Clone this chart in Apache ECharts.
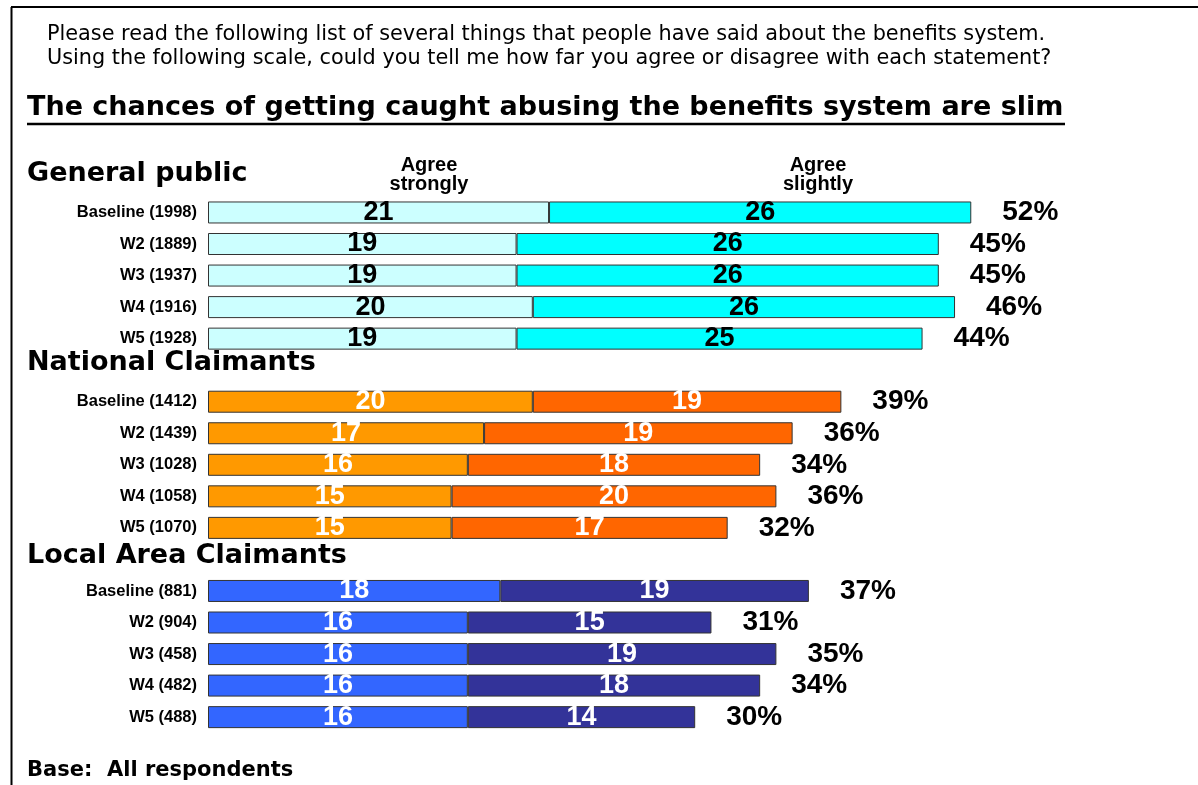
<!DOCTYPE html>
<html>
<head>
<meta charset="utf-8">
<script src="https://cdn.jsdelivr.net/npm/echarts@6/dist/echarts.min.js"></script>
<style>
  html, body { margin: 0; padding: 0; background: #fff; }
  #chart { width: 1198px; height: 785px; }
</style>
</head>
<body>
<div id="chart"></div>
<script>
// Survey groups and their waves (sample size in brackets)
const groupNames = ['General public', 'National Claimants', 'Local Area Claimants'];

const gpWaves = ['Baseline (1998)', 'W2 (1889)', 'W3 (1937)', 'W4 (1916)', 'W5 (1928)'];
const gpStrongly = [21, 19, 19, 20, 19];
const gpSlightly = [26, 26, 26, 26, 25];
const gpTotal = [52, 45, 45, 46, 44];

const ncWaves = ['Baseline (1412)', 'W2 (1439)', 'W3 (1028)', 'W4 (1058)', 'W5 (1070)'];
const ncStrongly = [20, 17, 16, 15, 15];
const ncSlightly = [19, 19, 18, 20, 17];
const ncTotal = [39, 36, 34, 36, 32];

const laWaves = ['Baseline (881)', 'W2 (904)', 'W3 (458)', 'W4 (482)', 'W5 (488)'];
const laStrongly = [18, 16, 16, 16, 16];
const laSlightly = [19, 15, 19, 18, 14];
const laTotal = [37, 31, 35, 34, 30];

const seriesNames = ['Agree strongly', 'Agree slightly'];

// Palette per group: [agree strongly, agree slightly, value label colour]
const palette = [
  ['#CCFFFF', '#00FFFF', '#000000'],
  ['#FF9900', '#FF6600', '#FFFFFF'],
  ['#3366FF', '#333399', '#FFFFFF']
];

const groups = [
  { waves: gpWaves, strongly: gpStrongly, slightly: gpSlightly, total: gpTotal },
  { waves: ncWaves, strongly: ncStrongly, slightly: ncSlightly, total: ncTotal },
  { waves: laWaves, strongly: laStrongly, slightly: laSlightly, total: laTotal }
];

// One category row per wave, with a spacer row between groups for the group heading
const categories = [];
const stronglyData = [];
const slightlyData = [];
const totalData = [];
groups.forEach((g, gi) => {
  if (gi > 0) {
    categories.push(' '.repeat(gi));
    stronglyData.push('-');
    slightlyData.push('-');
    totalData.push('-');
  }
  const [c1, c2, lc] = palette[gi];
  g.waves.forEach((w, i) => {
    categories.push(w);
    stronglyData.push({ value: g.strongly[i], itemStyle: { color: c1 }, label: { color: lc } });
    slightlyData.push({ value: g.slightly[i], itemStyle: { color: c2 }, label: { color: lc } });
    // zero-length cap at the end of each stack carries the "total agree" label
    totalData.push({ value: 0, pct: g.total[i] });
  });
});

const HEAD_FONT = '"DejaVu Sans", Verdana, sans-serif';
const ARIAL = '"Liberation Sans", Arial, sans-serif';

const chart = echarts.init(document.getElementById('chart'), null, { renderer: 'canvas' });

const barLabel = {
  show: true,
  position: 'inside',
  fontFamily: ARIAL,
  fontWeight: 'bold',
  fontSize: 27
};

chart.setOption({
  backgroundColor: '#ffffff',
  animation: false,
  grid: { left: 208, top: 196.7, width: 974.4, height: 536.2, containLabel: false },
  xAxis: { type: 'value', min: 0, max: 60, show: false },
  yAxis: {
    type: 'category',
    data: categories,
    inverse: true,
    axisLine: { show: false },
    axisTick: { show: false },
    splitLine: { show: false },
    axisLabel: {
      color: '#000',
      fontFamily: ARIAL,
      fontWeight: 'bold',
      fontSize: 16.5,
      margin: 11
    }
  },
  series: [
    {
      name: seriesNames[0],
      type: 'bar',
      stack: 'agree',
      barWidth: 22,
      data: stronglyData,
      itemStyle: { borderColor: '#333333', borderWidth: 1 },
      label: barLabel
    },
    {
      name: seriesNames[1],
      type: 'bar',
      stack: 'agree',
      barWidth: 22,
      data: slightlyData,
      itemStyle: { borderColor: '#333333', borderWidth: 1 },
      label: barLabel
    },
    {
      name: 'Total agree',
      type: 'bar',
      stack: 'agree',
      barWidth: 22,
      data: totalData,
      itemStyle: { color: 'rgba(0,0,0,0)', borderWidth: 0 },
      label: {
        show: true,
        position: 'right',
        distance: 31,
        color: '#000000',
        fontFamily: ARIAL,
        fontWeight: 'bold',
        fontSize: 28,
        formatter: p => p.data.pct + '%'
      }
    }
  ],
  graphic: [
    // frame lines
    { type: 'line', shape: { x1: 11, y1: 7, x2: 1198, y2: 7 }, style: { stroke: '#000', lineWidth: 2 } },
    { type: 'line', shape: { x1: 11.5, y1: 7, x2: 11.5, y2: 785 }, style: { stroke: '#000', lineWidth: 2 } },
    // question wording
    { type: 'text', x: 47, y: 35, style: {
        text: 'Please read the following list of several things that people have said about the benefits system.',
        font: '20.8px ' + HEAD_FONT, fill: '#000', textVerticalAlign: 'middle' } },
    { type: 'text', x: 47, y: 59, style: {
        text: 'Using the following scale, could you tell me how far you agree or disagree with each statement?',
        font: '20.8px ' + HEAD_FONT, fill: '#000', textVerticalAlign: 'middle' } },
    // statement heading with underline
    { type: 'text', x: 27, y: 108, style: {
        text: 'The chances of getting caught abusing the benefits system are slim',
        font: 'bold 27px ' + HEAD_FONT, fill: '#000', textVerticalAlign: 'middle' } },
    { type: 'line', shape: { x1: 27, y1: 124, x2: 1065, y2: 124 }, style: { stroke: '#000', lineWidth: 2.5 } },
    // group headings
    { type: 'text', x: 27, y: 174, style: { text: groupNames[0], font: 'bold 27px ' + HEAD_FONT, fill: '#000', textVerticalAlign: 'middle' } },
    { type: 'text', x: 27, y: 363, style: { text: groupNames[1], font: 'bold 27px ' + HEAD_FONT, fill: '#000', textVerticalAlign: 'middle' } },
    { type: 'text', x: 27, y: 556, style: { text: groupNames[2], font: 'bold 27px ' + HEAD_FONT, fill: '#000', textVerticalAlign: 'middle' } },
    // scale headings above the two segments
    { type: 'text', x: 429, y: 175, style: { text: 'Agree\nstrongly', font: 'bold 20px ' + ARIAL, fill: '#000', textAlign: 'center', textVerticalAlign: 'middle', lineHeight: 19 } },
    { type: 'text', x: 818, y: 175, style: { text: 'Agree\nslightly', font: 'bold 20px ' + ARIAL, fill: '#000', textAlign: 'center', textVerticalAlign: 'middle', lineHeight: 19 } },
    // base note
    { type: 'text', x: 27, y: 771, style: { text: 'Base:  All respondents', font: 'bold 21px ' + HEAD_FONT, fill: '#000', textVerticalAlign: 'middle' } }
  ]
});
</script>
</body>
</html>
